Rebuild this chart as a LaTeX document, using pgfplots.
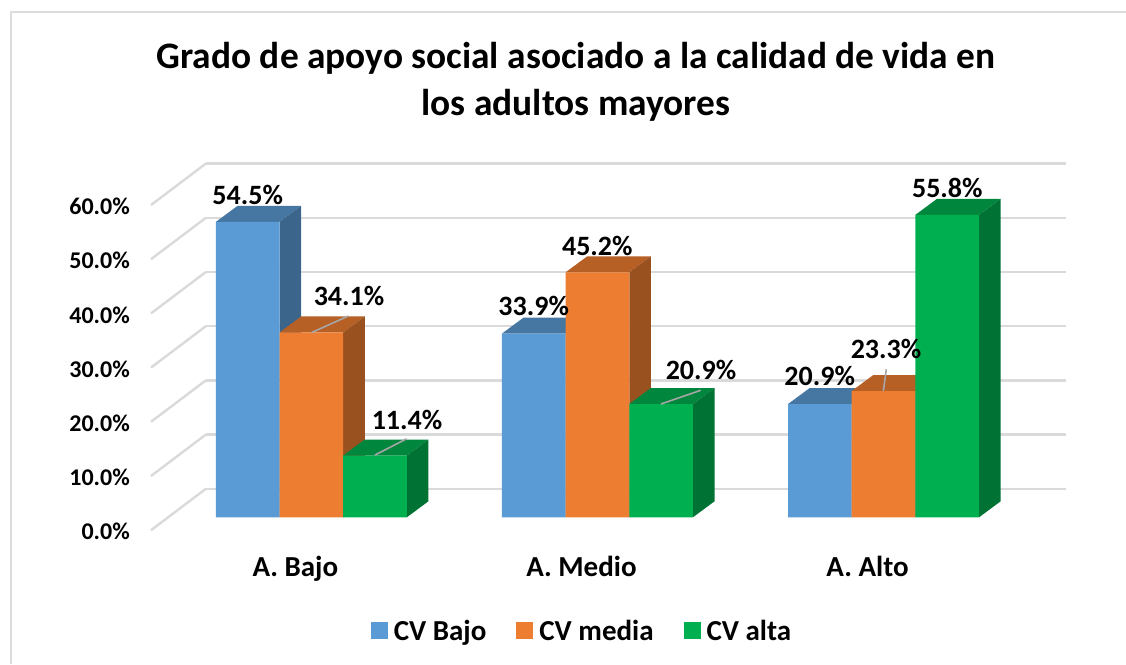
\documentclass[border=0pt]{standalone}
\usepackage{pgfplots}
\pgfplotsset{compat=1.18}
\usepackage{fontspec}
\setmainfont{Carlito}

\definecolor{gridc}{HTML}{DADADA}
\definecolor{framec}{HTML}{DDDDDD}
\definecolor{leadc}{HTML}{A6A6A6}
\definecolor{bluef}{HTML}{5B9BD5}
\definecolor{bluet}{HTML}{4677A3}
\definecolor{blues}{HTML}{3B658A}
\definecolor{orangef}{HTML}{ED7D31}
\definecolor{oranget}{HTML}{B66025}
\definecolor{oranges}{HTML}{9A5120}
\definecolor{greenf}{HTML}{00B050}
\definecolor{greent}{HTML}{00873D}
\definecolor{greens}{HTML}{007234}

% depth of the bars: 21.6 px across, 16 px up
\newcommand{\faces}[4]{% left edge, value, top colour, side colour
  \pgfmathsetmacro\xr{#1+0.22247}
  \pgfmathsetmacro\xlb{#1+0.0755}
  \pgfmathsetmacro\xrb{#1+0.29797}
  \pgfmathsetmacro\yb{#2+2.952}
  \addplot[forget plot,fill=#3,draw=none] coordinates {(#1,#2) (\xr,#2) (\xrb,\yb) (\xlb,\yb)} -- cycle;
  \addplot[forget plot,fill=#4,draw=none] coordinates {(\xr,0) (\xrb,2.952) (\xrb,\yb) (\xr,#2)} -- cycle;
}

\begin{document}
\begin{tikzpicture}
\path[use as bounding box] (0pt,0pt) rectangle (1126pt,664pt);
\draw[framec,line width=2pt] (11pt,0pt) -- (11pt,651.7pt) -- (1126pt,651.7pt);
\begin{axis}[
    at={(206pt,146.7pt)},
    anchor=south west,
    scale only axis,
    width=860pt,
    height=325.2pt,
    xmin=-0.3682,
    xmax=2.6377,
    ymin=0,
    ymax=60,
    clip=false,
    axis line style={draw=none},
    major tick length=0pt,
    tick style={draw=none},
    xtick={0,1,2},
    xticklabels={A. Bajo, A. Medio, A. Alto},
    xticklabel style={font=\fontsize{29}{32}\selectfont\bfseries,anchor=base,inner sep=0pt,xshift=-16pt,yshift=-59.5pt},
    ytick={0,10,20,30,40,50,60},
    yticklabel={\pgfmathprintnumber{\tick}\%},
    yticklabel style={font=\fontsize{24}{28}\selectfont\bfseries,anchor=east,inner sep=0pt,xshift=-76pt,yshift=-14.5pt,
      /pgf/number format/fixed,/pgf/number format/fixed zerofill,/pgf/number format/precision=1,
      /pgf/number format/assume math mode=true},
    ymajorgrids,
    major grid style={draw=gridc,line width=2.4pt,yshift=28.6pt},
    title={Grado de apoyo social asociado a la calidad de vida en\\los adultos mayores},
    title style={at={(0.4302,1.3201)},anchor=center,align=center,inner sep=0pt,
      font=\fontsize{37.4}{47}\selectfont\bfseries},
    legend style={at={(0.4372,-0.3496)},anchor=center,draw=none,fill=none,
      font=\fontsize{29}{32}\selectfont\bfseries,legend columns=3,
      /tikz/every odd column/.append style={column sep=4pt},
      /tikz/every even column/.append style={column sep=28pt}},
    legend cell align=left,
    legend image code/.code={\fill[#1] (0pt,-8.5pt) rectangle (17pt,8.5pt);},
]
% slanted part of the gridlines, on the left wall
\addplot[forget plot,draw=gridc,line width=2.4pt,unbounded coords=jump] table {
x y
-0.3682 5.28
-0.5604 -2.38
nan nan
-0.3682 15.28
-0.5604 7.62
nan nan
-0.3682 25.28
-0.5604 17.62
nan nan
-0.3682 35.28
-0.5604 27.62
nan nan
-0.3682 45.28
-0.5604 37.62
nan nan
-0.3682 55.28
-0.5604 47.62
nan nan
-0.3682 65.28
-0.5604 57.62
};

% CV Bajo
\faces{-0.3337}{54.5}{bluet}{blues}
\faces{0.6663}{33.9}{bluet}{blues}
\faces{1.6663}{20.9}{bluet}{blues}
\addplot[ybar,bar width=63.65pt,fill=bluef,draw=none,bar shift=-63.65pt] coordinates {(0,54.5) (1,33.9) (2,20.9)};
\addlegendentry{CV Bajo}

% CV media
\faces{-0.1112}{34.1}{oranget}{oranges}
\faces{0.8888}{45.2}{oranget}{oranges}
\faces{1.8888}{23.3}{oranget}{oranges}
\addplot[ybar,bar width=63.65pt,fill=orangef,draw=none,bar shift=0pt] coordinates {(0,34.1) (1,45.2) (2,23.3)};
\addlegendentry{CV media}

% CV alta
\faces{0.1112}{11.4}{greent}{greens}
\faces{1.1112}{20.9}{greent}{greens}
\faces{2.1112}{55.8}{greent}{greens}
\addplot[ybar,bar width=63.65pt,fill=greenf,draw=none,bar shift=63.65pt] coordinates {(0,11.4) (1,20.9) (2,55.8)};
\addlegendentry{CV alta}

% leader lines of the labels
\addplot[forget plot,draw=leadc,line width=1.6pt] coordinates {(0,34.06) (0.1292,37.14)};
\addplot[forget plot,draw=leadc,line width=1.6pt] coordinates {(0.2225,11.49) (0.3333,14.5)};
\addplot[forget plot,draw=leadc,line width=1.6pt] coordinates {(1.2219,20.9) (1.3609,23.43)};
\addplot[forget plot,draw=leadc,line width=1.6pt] coordinates {(1.9992,23.3) (2.0096,27.31)};

\begin{scope}[every node/.style={font=\fontsize{28}{32}\selectfont\bfseries,inner sep=0pt,anchor=center}]
\node at (axis cs:-0.2225,59.46) {54.5\%};
\node at (axis cs:0.1316,40.83) {34.1\%};
\node at (axis cs:0.3343,18.04) {11.4\%};
\node at (axis cs:0.7772,38.99) {33.9\%};
\node at (axis cs:0.9995,50.15) {45.2\%};
\node at (axis cs:1.3619,27.18) {20.9\%};
\node at (axis cs:1.7768,26.07) {20.9\%};
\node at (axis cs:2.0086,31.05) {23.3\%};
\node at (axis cs:2.2229,60.76) {55.8\%};
\end{scope}
\end{axis}
\end{tikzpicture}
\end{document}
